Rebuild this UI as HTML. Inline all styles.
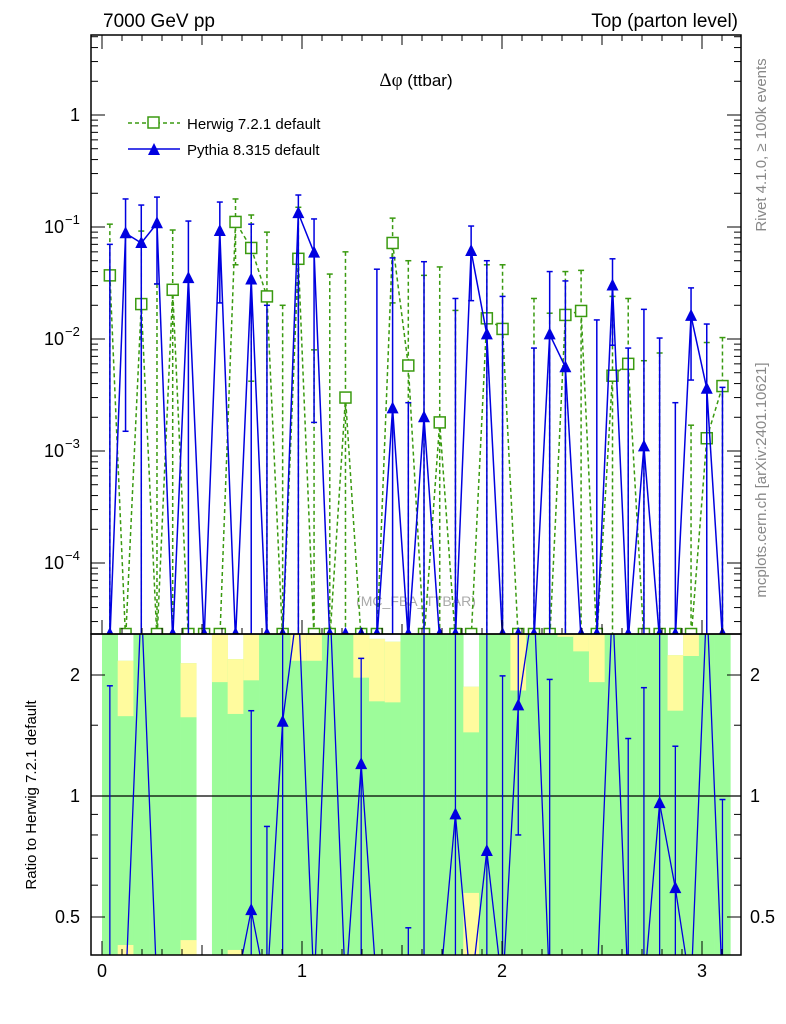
<!DOCTYPE html>
<html><head><meta charset="utf-8"><style>
body{margin:0;background:#fff}
svg{display:block;font-family:"Liberation Sans",sans-serif}
</style></head><body>
<svg id="c" width="786" height="1024" viewBox="0 0 786 1024">
<text x="103" y="27" font-size="19">7000 GeV pp</text>
<text x="738" y="27" font-size="19" text-anchor="end">Top (parton level)</text>
<text x="416" y="86" font-size="17" text-anchor="middle"><tspan font-family="Liberation Serif,serif" font-size="19">Δφ</tspan> (ttbar)</text>
<text x="416" y="606" font-size="14" fill="#aaa" text-anchor="middle">(MC_FBA_TTBAR)</text>
<text transform="translate(766,145) rotate(-90)" font-size="15" fill="#888" text-anchor="middle">Rivet 4.1.0, ≥ 100k events</text>
<text transform="translate(766,480) rotate(-90)" font-size="15" fill="#888" text-anchor="middle">mcplots.cern.ch [arXiv:2401.10621]</text>
<text transform="translate(36,795) rotate(-90)" font-size="15" text-anchor="middle">Ratio to Herwig 7.2.1 default</text>
<g>
<g>
<line x1="128" y1="123" x2="180" y2="123" stroke="#3a9a10" stroke-width="1.5" stroke-dasharray="4,3"/>
<rect x="148" y="117" width="11" height="11" fill="#fff" stroke="#3a9a10" stroke-width="1.5"/>
<text x="187" y="129" font-size="15">Herwig 7.2.1 default</text></g>
<g>
<line x1="128" y1="149" x2="180" y2="149" stroke="#0000e0" stroke-width="1.5"/>
<polygon points="148,155 160,155 154,143" fill="#0000e0"/>
<text x="187" y="155" font-size="15">Pythia 8.315 default</text></g>
</g>
<defs>
<clipPath id="cm"><rect x="91" y="35" width="650" height="599"/></clipPath>
<clipPath id="cr"><rect x="91" y="634" width="650" height="321"/></clipPath>
</defs>
<g id="bands" clip-path="url(#cr)"></g>
<g id="ratio" clip-path="url(#cr)"></g>
<g id="main" clip-path="url(#cm)"></g>
<g id="axes"></g>
</svg>
<script>
const hVal=[0.037,0,0.0205,0,0.0275,0,0,0,0.111,0.065,0.024,0,0.052,0,0,0.0030,0,0,0.072,0.0058,0,0.0018,0,0,0.0153,0.0123,0,0,0,0.0164,0.0178,0,0.0047,0.006,0,0,0,0,0.0013,0.0038];
const hHi=[0.106,0,0.092,0.031,0.094,0,0,0,0.178,0.128,0.09,0.02,0.15,0.008,0.038,0.06,0,0,0.12,0.05,0.037,0.044,0.018,0,0.046,0.046,0,0.023,0.017,0.04,0.041,0,0.024,0.023,0.0064,0.0075,0,0.0017,0.0093,0.0103];
const hLo=[0,0,0,0,0,0,0,0,0.046,0.0042,0,0,0,0,0,0,0,0,0.021,0,0,0,0,0,0,0,0,0,0,0,0,0,0,0,0,0,0,0,0,0];
const pVal=[0,0.088,0.072,0.108,0,0.035,0,0.092,0,0.034,0,0,0.133,0.059,0,0,0,0,0.0024,0,0.002,0,0,0.061,0.011,0,0,0,0.011,0.0056,0,0,0.030,0,0.0011,0,0,0.0161,0.0036,0];
const pHi=[0.07,0.178,0.157,0.185,0,0.113,0,0.167,0,0.106,0.02,0,0.193,0.118,0,0,0,0.042,0.053,0.0027,0.049,0,0.023,0.102,0.05,0.024,0,0.0083,0.04,0.033,0,0.0148,0.052,0.0083,0.0184,0.0102,0.0027,0.0286,0.0136,0.0037];
const pLo=[0,0.0015,0,0.031,0,0,0,0.021,0,0,0,0,0,0.0018,0,0,0,0,0,0,0,0,0,0.022,0,0,0,0,0,0,0,0,0.0088,0,0,0,0,0.0043,0,0];
const rVal=[0,0,99,0,0,0,0,0,0,0.52,0,1.53,99,0,99,0,1.2,0,0,0,0,0,0.9,0,0.73,0,1.68,99,0,0,0,0,99,0,0,0.96,0.59,0,99,0];
const rHi=[1.88,0,0,0,0,0,0,0,0,1.63,0.84,99,0,0,0,0,2.2,0,0,0.47,99,0,99,0,99,1.99,99,0,1.95,0,0,0,0,1.39,1.86,99,1.33,0,0,0.98];
const rLo=[0,0,0,0,0,0,0,0,0,0,0,0,0,0,0,0,0,0,0,0,0,0,0,0,0,0,0.8,0,0,0,0,0,0,0,0,0,0,0,0,0];
const bandGreenTop=[99,2.17,99,99,99,2.14,0,99,2.19,99,99,99,99,99,99,99,99,2.46,2.42,99,99,99,99,1.87,99,99,99,99,99,99,99,99,99,99,99,99,2.24,99,99,99];
const bandYellowTop=[0,1.58,0,0,0,1.57,0,1.92,1.60,1.94,0,0,2.17,2.17,0,0,1.97,1.72,1.71,0,0,0,0,1.44,0,0,1.83,0,0,2.49,2.29,1.92,0,0,0,0,1.63,2.23,0,0];
const bandYellowBottom=[0,0.426,0,0,0,0.438,0,0,0.414,0,0,0,0,0,0,0,0,0,0,0,0,0,0,0.574,0,0,0,0,0,0,0,0,0,0,0,0,0,0,0,0];
const NB=40, BW=Math.PI/40;
const X=v=>102+200*v;
const Y=v=>v<=0?640:115-112*Math.log10(v);
const R=v=>v<=0.01?990:(v>=50?600:796-121*Math.log2(v));
const ns="http://www.w3.org/2000/svg";
function mk(p,t,a){const e=document.createElementNS(ns,t);for(const k in a)e.setAttribute(k,a[k]);p.appendChild(e);return e;}
const G=document.getElementById('main'),RG=document.getElementById('ratio'),BG=document.getElementById('bands'),AX=document.getElementById('axes');
const cx=i=>X((i+0.5)*BW);
// bands
for(let i=0;i<NB;i++){
 const x0=X(i*BW),w=X((i+1)*BW)-x0+0.3;
 if(bandGreenTop[i]>0){
  const gt=R(bandGreenTop[i]);
  const r=mk(BG,'rect',{x:x0,y:gt,width:w,height:960-gt,fill:'#9dfc9a'});
  
  
  if(bandYellowTop[i]>0){const yt=R(bandYellowTop[i]);const y=mk(BG,'rect',{x:x0,y:gt,width:w,height:yt-gt,fill:'#fffb9e'});
   
   }
  if(bandYellowBottom[i]>0){const yb=R(bandYellowBottom[i]);const y=mk(BG,'rect',{x:x0,y:yb,width:w,height:960-yb,fill:'#fffb9e'});
   
   }
 }
}
mk(BG,'line',{x1:91,y1:796,x2:741,y2:796,stroke:'#000','stroke-width':1.2});
// main series
function series(val,hi,lo,color,dash,marker,name){
 const g=mk(G,'g',{});
 
 
 let d='';
 for(let i=0;i<NB;i++)d+=(i?'L':'M')+cx(i).toFixed(1)+','+Y(val[i]).toFixed(1);
 const a={d:d,fill:'none',stroke:color,'stroke-width':1.5};if(dash)a['stroke-dasharray']=dash;
 mk(g,'path',a);
 for(let i=0;i<NB;i++){
  const x=cx(i);
  if(hi[i]>0){const yt=Y(hi[i]),yb=Y(lo[i]);const b={x1:x,y1:yt,x2:x,y2:yb,stroke:color,'stroke-width':1.5};if(dash)b['stroke-dasharray']=dash;
   const e=mk(g,'line',b);
   
   
   mk(g,'line',{x1:x-3,y1:yt,x2:x+3,y2:yt,stroke:color,'stroke-width':1.5});
   if(lo[i]>0)mk(g,'line',{x1:x-3,y1:yb,x2:x+3,y2:yb,stroke:color,'stroke-width':1.5});}
  const y=val[i]>0?Y(val[i]):634;
  let m;
  if(marker==='sq')m=mk(g,'rect',{x:x-5.5,y:y-5.5,width:11,height:11,fill:'#fff',stroke:color,'stroke-width':1.5});
  else m=mk(g,'polygon',{points:`${x-6},${y+5} ${x+6},${y+5} ${x},${y-7}`,fill:color});
  
  
 }
}
series(hVal,hHi,hLo,'#3a9a10','4,3','sq','series-herwig');
series(pVal,pHi,pLo,'#0000e0',null,'tri','series-pythia');
// ratio
{let d='';for(let i=0;i<NB;i++)d+=(i?'L':'M')+cx(i).toFixed(1)+','+R(rVal[i]).toFixed(1);
 mk(RG,'path',{d:d,fill:'none',stroke:'#0000e0','stroke-width':1.3});
 for(let i=0;i<NB;i++){const x=cx(i);
  if(rHi[i]>0){const yt=R(rHi[i]),yb=R(rLo[i]);mk(RG,'line',{x1:x,y1:yt,x2:x,y2:yb,stroke:'#0000e0','stroke-width':1.3});
   mk(RG,'line',{x1:x-3,y1:yt,x2:x+3,y2:yt,stroke:'#0000e0','stroke-width':1.5});
   if(rLo[i]>0)mk(RG,'line',{x1:x-3,y1:yb,x2:x+3,y2:yb,stroke:'#0000e0','stroke-width':1.5});}
  if(rVal[i]>0.01&&rVal[i]<50){const y=R(rVal[i]);const m=mk(RG,'polygon',{points:`${x-6},${y+5} ${x+6},${y+5} ${x},${y-7}`,fill:'#0000e0'});
   
   }
 }}
// axes frames
mk(AX,'rect',{x:91,y:35,width:650,height:599,fill:'none',stroke:'#000','stroke-width':1.5});
mk(AX,'rect',{x:91,y:634,width:650,height:321,fill:'none',stroke:'#000','stroke-width':1.5});
// y ticks main (log)
for(let e=-5;e<=0;e++)for(let k=1;k<10;k++){const v=k*Math.pow(10,e);const y=Y(v);if(y<35||y>634)continue;const L=k===1?14:7;
 mk(AX,'line',{x1:91,y1:y,x2:91+L,y2:y,stroke:'#000'});mk(AX,'line',{x1:741,y1:y,x2:741-L,y2:y,stroke:'#000'});}
const mainLabels=[[0,'1'],[-1,'10'],[-2,'10'],[-3,'10'],[-4,'10']];
for(const [e,t] of mainLabels){const y=Y(Math.pow(10,e));
 const tx=mk(AX,'text',{x:e===0?80:64,y:y+6,'font-size':18,'text-anchor':'end'});tx.textContent=t;
 
 
 if(e<0){const s=mk(AX,'text',{x:65,y:y-3,'font-size':13});s.textContent='−'+(-e);}}
// ratio ticks
const rTicks=[0.5,0.6,0.7,0.8,0.9,1,1.5,2];
for(const v of rTicks){const y=R(v);const L=(v===0.5||v===1||v===2)?14:7;
 mk(AX,'line',{x1:91,y1:y,x2:91+L,y2:y,stroke:'#000'});mk(AX,'line',{x1:741,y1:y,x2:741-L,y2:y,stroke:'#000'});}
for(const v of [0.5,1,2]){const y=R(v);
 const a=mk(AX,'text',{x:80,y:y+6,'font-size':18,'text-anchor':'end'});a.textContent=String(v);
 
 
 const b=mk(AX,'text',{x:750,y:y+6,'font-size':18});b.textContent=String(v);}
// x ticks
for(let k=-0;k<=32;k++){const v=k/10;const x=X(v);if(x>741)continue;const L=k%10===0?14:(k%5===0?10:6);
 for(const yb of [634,955]){mk(AX,'line',{x1:x,y1:yb,x2:x,y2:yb-L,stroke:'#000'});}
 mk(AX,'line',{x1:x,y1:35,x2:x,y2:35+L,stroke:'#000'});}
for(const v of [0,1,2,3]){const t=mk(AX,'text',{x:X(v),y:977,'font-size':18,'text-anchor':'middle'});t.textContent=String(v);
 
 }
</script>
</body></html>
